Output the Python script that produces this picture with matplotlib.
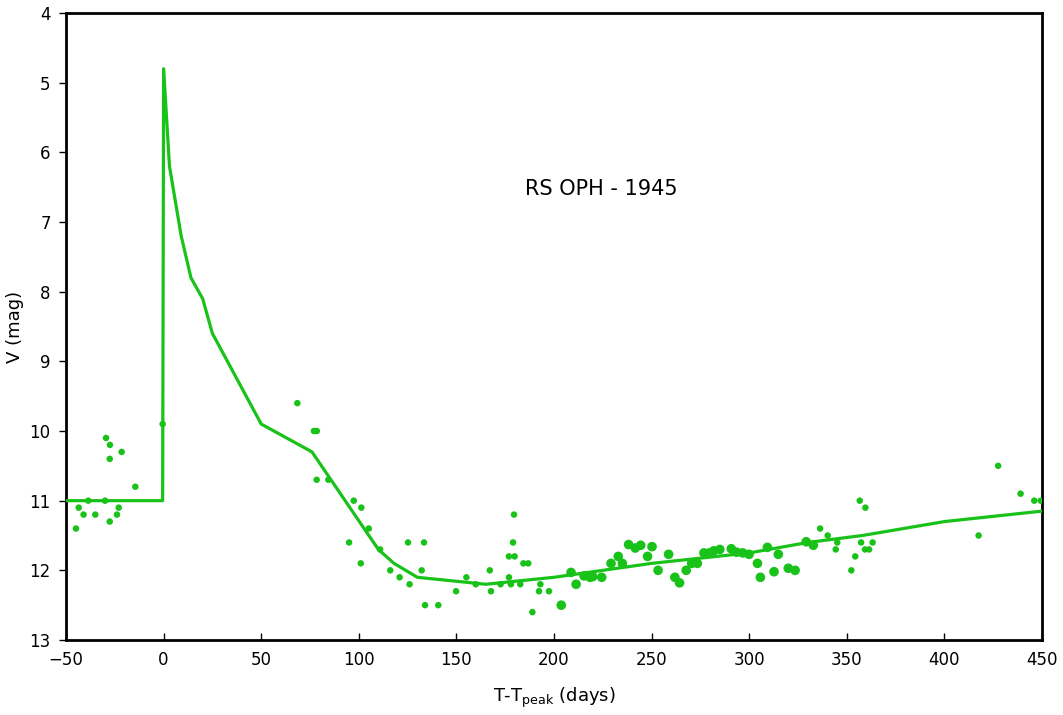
import matplotlib
matplotlib.use("Agg")
import matplotlib.pyplot as plt

# light curve model (line)
line_days = [-50, -0.5, 0, 3, 9, 14, 20, 25, 50, 76, 110, 118, 130, 165, 200, 250, 300, 330, 358, 400, 450]
line_mag = [11.0, 11.0, 4.8, 6.2, 7.2, 7.8, 8.1, 8.6, 9.9, 10.3, 11.7, 11.9, 12.1, 12.2, 12.1, 11.9, 11.75, 11.6, 11.5, 11.3, 11.15]

# observations, small markers
obs_days = [-0.5, -29.5, -27.5, -21.5, -27.6, -14.5, -38.6, -30, -43.5, -23, -41, -35, -23.9, -27.6, -44.9,
            68.5, 77, 78.5, 78.4, 84.4, 97.4, 101.3, 105.1, 95, 110.9, 101, 125.2, 133.4, 116.1, 120.9,
            132.2, 126, 133.9, 140.7, 149.8, 155.1, 159.9, 167.1, 167.7, 172.6, 176.9, 177.9, 176.9,
            179.8, 179, 179.5, 182.7, 184.3, 186.8, 193, 192.3, 197.4, 188.9,
            336.3, 340.2, 345.1, 344.3, 356.6, 359.5, 357.3, 363.2, 359.3, 361.4, 354.3, 352.3,
            417.5, 427.5, 439, 446, 449.3]
obs_mag = [9.9, 10.1, 10.2, 10.3, 10.4, 10.8, 11.0, 11.0, 11.1, 11.1, 11.2, 11.2, 11.2, 11.3, 11.4,
           9.6, 10.0, 10.0, 10.7, 10.7, 11.0, 11.1, 11.4, 11.6, 11.7, 11.9, 11.6, 11.6, 12.0, 12.1,
           12.0, 12.2, 12.5, 12.5, 12.3, 12.1, 12.2, 12.0, 12.3, 12.2, 12.1, 12.2, 11.8,
           11.8, 11.6, 11.2, 12.2, 11.9, 11.9, 12.2, 12.3, 12.3, 12.6,
           11.4, 11.5, 11.6, 11.7, 11.0, 11.1, 11.6, 11.6, 11.7, 11.7, 11.8, 12.0,
           11.5, 10.5, 10.9, 11.0, 11.0]

# observations, larger markers
big_days = [203.7, 208.7, 211.3, 215.4, 218.4, 219.8, 224.4, 229.2, 232.9, 235, 238.2, 241.6, 244.4,
            250.2, 247.9, 253.3, 258.7, 261.9, 264.3, 267.7, 270.5, 273.4, 276.8, 279.4, 281.8, 284.9,
            290.8, 293.6, 296.7, 299.9, 304.2, 305.7, 309.3, 312.7, 314.9, 320, 323.5, 329.2, 332.8]
big_mag = [12.5, 12.03, 12.2, 12.08, 12.1, 12.09, 12.1, 11.9, 11.8, 11.9, 11.63, 11.68, 11.64,
           11.66, 11.8, 12.0, 11.77, 12.1, 12.18, 12.0, 11.9, 11.9, 11.75, 11.75, 11.72, 11.7,
           11.69, 11.74, 11.75, 11.77, 11.9, 12.1, 11.67, 12.02, 11.77, 11.97, 12.0, 11.59, 11.64]

green = "#19c219"

fig = plt.figure(figsize=(10.63, 7.15), dpi=100)
ax = fig.add_axes([0.0621, 0.1049, 0.9182, 0.8769])

ax.plot(line_days, line_mag, color=green, lw=2.3, zorder=3)
ax.scatter(obs_days, obs_mag, s=22, color=green, edgecolors="none", zorder=4)
ax.scatter(big_days, big_mag, s=48, color=green, edgecolors="none", zorder=4)

ax.set_xlim(-50, 450)
ax.set_ylim(13, 4)
ax.set_xticks(range(-50, 451, 50))
ax.set_yticks(range(4, 14))

for s in ax.spines.values():
    s.set_linewidth(2)
    s.set_color("black")
ax.tick_params(axis="x", direction="in", length=5, width=1, labelsize=12, pad=8)
ax.tick_params(axis="y", direction="out", length=5, width=1, labelsize=12, pad=6)

ax.set_xlabel(r"T-T$_{\rm peak}$ (days)", fontsize=13, labelpad=12)
ax.set_ylabel("V (mag)", fontsize=13, labelpad=4)
ax.text(224, 6.52, "RS OPH - 1945", fontsize=15, ha="center", va="center")

fig.savefig("out.png", dpi=100)
